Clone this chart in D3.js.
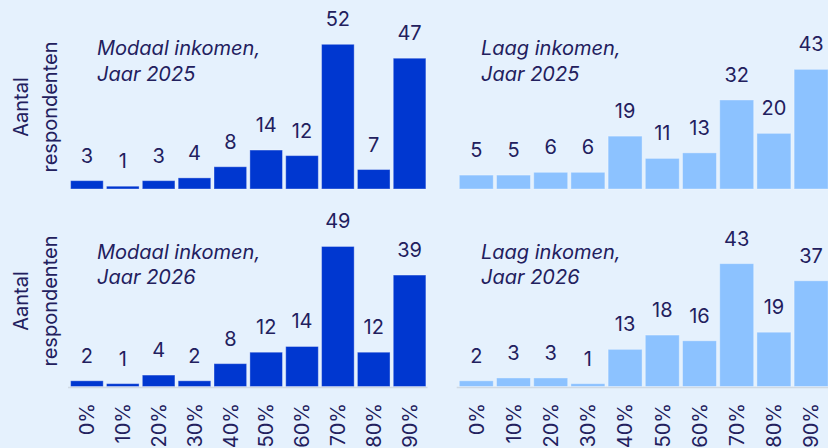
<!DOCTYPE html>
<html>
<head>
<meta charset="utf-8">
<script src="https://cdn.jsdelivr.net/npm/d3@7"></script>
<style>
  html, body { margin: 0; padding: 0; background: #E5F1FD; }
  svg { display: block; font-family: Inter, "Noto Sans", sans-serif; font-weight: 400; }
</style>
</head>
<body>
<svg id="chart" width="828" height="448"></svg>
<script>
const categories = ["0%", "10%", "20%", "30%", "40%", "50%", "60%", "70%", "80%", "90%"];
const modaal2025 = [3, 1, 3, 4, 8, 14, 12, 52, 7, 47];
const laag2025 = [5, 5, 6, 6, 19, 11, 13, 32, 20, 43];
const modaal2026 = [2, 1, 4, 2, 8, 12, 14, 49, 12, 39];
const laag2026 = [2, 3, 3, 1, 13, 18, 16, 43, 19, 37];
const titles = [["Modaal inkomen,", "Jaar 2025"], ["Laag inkomen,", "Jaar 2025"],
                ["Modaal inkomen,", "Jaar 2026"], ["Laag inkomen,", "Jaar 2026"]];
const yLabel = ["Aantal", "respondenten"];

const DARK = "#0037D0", LIGHT = "#8CC2FF", TEXT = "#22205E";
const svg = d3.select("#chart");

const xLeft = d3.scaleBand().domain(categories).range([69, 427.5]).paddingInner(0.09).paddingOuter(0.045);
const xRight = d3.scaleBand().domain(categories).range([457.7, 829.7]).paddingInner(0.086).paddingOuter(0.043);
const yTop = d3.scaleLinear().domain([0, 52]).range([189, 44.3]);
const yBot = d3.scaleLinear().domain([0, 52]).range([386.5, 237.9]);

const panels = [
  {data: modaal2025, x: xLeft, y: yTop, color: DARK, title: titles[0], tx: 97, ty: 55, axis: false},
  {data: laag2025, x: xRight, y: yTop, color: LIGHT, title: titles[1], tx: 481, ty: 55, axis: false},
  {data: modaal2026, x: xLeft, y: yBot, color: DARK, title: titles[2], tx: 97, ty: 258.5, axis: true},
  {data: laag2026, x: xRight, y: yBot, color: LIGHT, title: titles[3], tx: 481, ty: 258.5, axis: true}
];

panels.forEach(p => {
  const g = svg.append("g");
  const rows = categories.map((c, i) => ({c, v: p.data[i]}));
  if (p.axis) {
    const r = p.x.range();
    g.append("line").attr("x1", r[0] - 1).attr("x2", Math.min(r[1], 828))
      .attr("y1", p.y(0) + 1).attr("y2", p.y(0) + 1)
      .attr("stroke", "#D0D9E3").attr("stroke-width", 1.6);
  }
  g.selectAll("rect").data(rows).join("rect")
    .attr("x", d => p.x(d.c))
    .attr("width", p.x.bandwidth())
    .attr("y", d => p.y(d.v))
    .attr("height", d => p.y(0) - p.y(d.v))
    .attr("fill", p.color)
    .attr("stroke", "rgba(255,255,255,0.35)")
    .attr("stroke-width", 1);
  g.selectAll("text.val").data(rows).join("text").attr("class", "val")
    .attr("x", d => p.x(d.c) + p.x.bandwidth() / 2)
    .attr("y", d => p.y(d.v) - 18)
    .attr("text-anchor", "middle")
    .attr("fill", TEXT).attr("font-size", 20)
    .text(d => d.v);
  const t = g.append("text").attr("fill", TEXT).attr("font-size", 20).attr("font-style", "italic");
  p.title.forEach((s, i) => t.append("tspan").attr("x", p.tx).attr("y", p.ty + i * 25.5).text(s));
  if (p.axis) {
    g.selectAll("text.tick").data(categories).join("text").attr("class", "tick")
      .attr("transform", d => `translate(${p.x(d) + p.x.bandwidth() / 2},403) rotate(-90)`)
      .attr("text-anchor", "end").attr("dy", "0.36em")
      .attr("fill", TEXT).attr("font-size", 20)
      .text(d => d);
  }
});

[107, 301].forEach(cy => {
  yLabel.forEach((s, i) => {
    svg.append("text")
      .attr("transform", `translate(${28 + i * 29},${cy}) rotate(-90)`)
      .attr("text-anchor", "middle")
      .attr("fill", TEXT).attr("font-size", 20)
      .text(s);
  });
});
</script>
</body>
</html>
